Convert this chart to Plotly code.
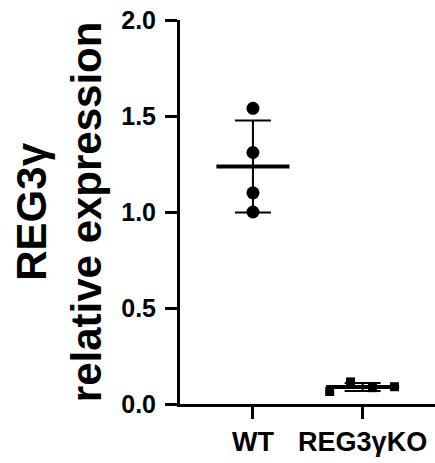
import numpy as np
import plotly.graph_objects as go

categories = ["WT", "REG3γKO"]
cat_pos = [1, 2]
wt_values = [1.54, 1.31, 1.10, 1.00]
ko_values = [0.065, 0.115, 0.085, 0.09]
ko_spread = [-0.30, -0.11, 0.09, 0.29]
y_ticks = [0.0, 0.5, 1.0, 1.5, 2.0]
y_ticklabels = ["0.0", "0.5", "1.0", "1.5", "2.0"]

FONT = "Liberation Sans, Arial, sans-serif"
fig = go.Figure()

groups = [
    (cat_pos[0], wt_values, [0, 0, 0, 0], "circle", 13),
    (cat_pos[1], ko_values, ko_spread, "square", 9),
]
for pos, vals, spread, sym, size in groups:
    m = float(np.mean(vals))
    sd = float(np.std(vals, ddof=1))
    # error bar
    fig.add_trace(go.Scatter(
        x=[pos], y=[m], mode="markers",
        marker=dict(size=1, color="rgba(0,0,0,0)"),
        error_y=dict(type="data", array=[sd], symmetric=True,
                     color="black", thickness=2, width=18),
        showlegend=False, hoverinfo="skip"))
    # mean line
    fig.add_trace(go.Scatter(
        x=[pos - 0.333, pos + 0.333], y=[m, m], mode="lines",
        line=dict(color="black", width=4),
        showlegend=False, hoverinfo="skip"))
    # points
    fig.add_trace(go.Scatter(
        x=[pos + s for s in spread], y=vals, mode="markers",
        marker=dict(symbol=sym, size=size, color="black"),
        showlegend=False))

fig.add_annotation(
    text="<b>REG3γ</b><br><b>relative expression</b>",
    textangle=-90, xref="paper", yref="paper",
    x=-0.474, y=0.5, xanchor="center", yanchor="middle",
    showarrow=False, font=dict(family=FONT, size=42, color="black"))

fig.update_layout(
    width=435, height=463,
    margin=dict(l=180, r=0, t=20, b=59, autoexpand=False),
    paper_bgcolor="white", plot_bgcolor="white",
    font=dict(family=FONT, color="black"),
    xaxis=dict(range=[0.335, 2.66], tickvals=cat_pos,
               ticktext=["<b>" + c + "</b>" for c in categories],
               showline=True, linecolor="black", linewidth=3,
               ticks="outside", ticklen=12, tickwidth=3, tickcolor="black",
               showgrid=False, zeroline=False, automargin=False,
               tickfont=dict(family=FONT, size=27, color="black")),
    yaxis=dict(range=[0, 2], tickvals=y_ticks,
               ticktext=["<b>" + t + "</b>" for t in y_ticklabels],
               showline=True, linecolor="black", linewidth=3,
               ticks="outside", ticklen=12, tickwidth=3, tickcolor="black",
               showgrid=False, zeroline=False, automargin=False,
               ticklabelstandoff=4, ticklabeloverflow="allow",
               tickfont=dict(family=FONT, size=25, color="black")),
)

fig.write_html("out.html", config={"displayModeBar": False},
               post_script="document.body.style.margin='0';")
